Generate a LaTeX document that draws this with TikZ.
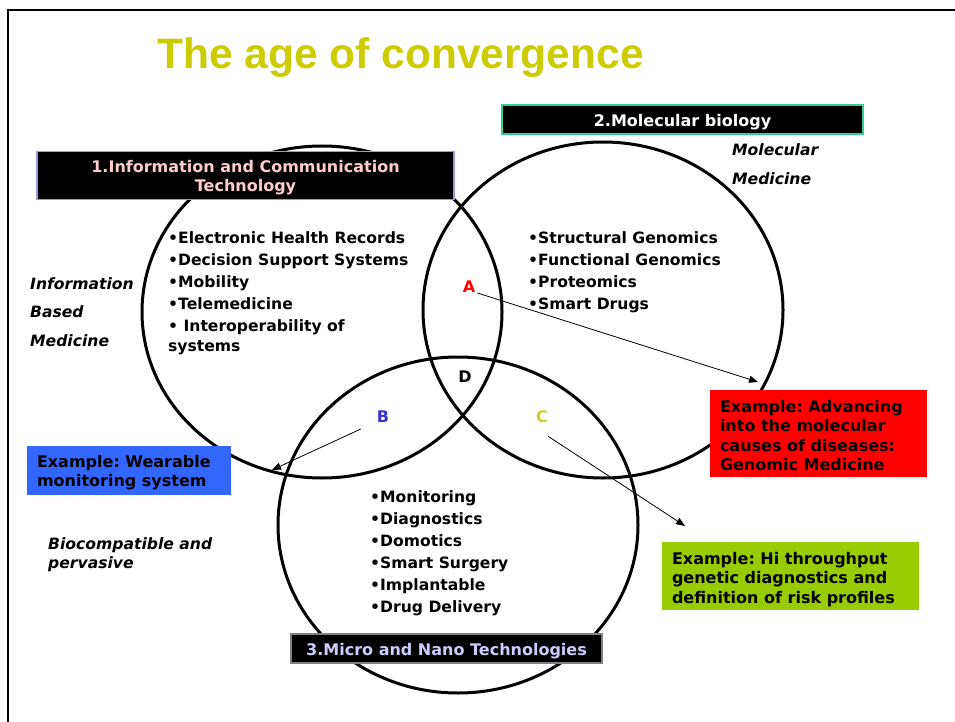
\documentclass[tikz,border=0pt]{standalone}
\usepackage{fontspec}
\setmainfont{DejaVu Sans}
\newfontfamily\titlefont{Liberation Sans}
\usetikzlibrary{arrows.meta}
\frenchspacing
\definecolor{titlecol}{RGB}{204,204,0}
\definecolor{pinktxt}{RGB}{255,204,204}
\definecolor{lavtxt}{RGB}{204,204,255}
\definecolor{box1border}{RGB}{153,153,221}
\definecolor{box2border}{RGB}{51,204,153}
\definecolor{box3border}{RGB}{128,128,128}
\definecolor{bluebox}{RGB}{51,102,255}
\definecolor{redbox}{RGB}{255,0,0}
\definecolor{greenbox}{RGB}{153,204,0}
\definecolor{letterB}{RGB}{51,51,204}
\definecolor{letterC}{RGB}{204,204,51}
\tikzset{
  venn/.style={line width=3pt, draw=black},
  item/.style={anchor=base west, inner sep=0pt, font=\fontsize{15.6}{18}\selectfont\bfseries},
  side/.style={anchor=base west, inner sep=0pt, font=\fontsize{15.6}{18}\selectfont\bfseries\itshape},
  header/.style={fill=black, line width=1.2pt, inner sep=0pt},
  headertext/.style={inner sep=0pt, align=center, yshift=-2.5pt,
    font=\fontsize{16}{19}\selectfont\bfseries},
  examplebox/.style={inner sep=0pt},
  exampletext/.style={inner sep=0pt, align=left, anchor=west, yshift=-2pt,
    font=\fontsize{16}{19.5}\selectfont\bfseries, text=black},
  letter/.style={inner sep=0pt, font=\fontsize{16}{18}\selectfont\bfseries},
  pointer/.style={line width=0.8pt, -{Triangle[length=9pt,width=7pt]}}
}
\begin{document}
\begin{tikzpicture}[x=1pt,y=-1pt]
\useasboundingbox (0,0) rectangle (955,722);
% slide frame
\draw[line width=2.5pt] (8,722) -- (8,10) -- (955,10);
% title
\node[anchor=base west, inner sep=0pt, text=titlecol, font=\titlefont\fontsize{42.5}{48}\selectfont\bfseries] (title) at (157,69) {The age of convergence};
% circles
\coordinate (c1) at (322,312);
\coordinate (c2) at (603,310);
\coordinate (c3) at (458,525);
\draw[venn] (c1) ellipse [x radius=180, y radius=166];
\draw[venn] (c2) ellipse [x radius=180, y radius=168];
\draw[venn] (c3) ellipse [x radius=180, y radius=168];
% headers
\node[header, draw=box1border, minimum width=417pt, minimum height=48pt] (h1) at (245.5,175.5) {};
\node[headertext, text=pinktxt] (h1t) at (h1.center) {1.Information and Communication\\Technology};
\node[header, draw=box2border, minimum width=361pt, minimum height=29pt] (h2) at (682.5,119.5) {};
\node[headertext, text=white] (h2t) at (h2.center) {2.Molecular biology};
\node[header, draw=box3border, minimum width=311pt, minimum height=29pt] (h3) at (446.5,648.5) {};
\node[headertext, text=lavtxt] (h3t) at (h3.center) {3.Micro and Nano Technologies};
% side labels
\node[side] (s1) at (30,289) {Information};
\node[side] (s2) at (30,317) {Based};
\node[side] (s3) at (30,346) {Medicine};
\node[side] (s4) at (732,156) {Molecular};
\node[side] (s5) at (732,185) {Medicine};
\node[side] (s6) at (48,549) {Biocompatible and};
\node[side] (s7) at (48,568) {pervasive};
% ICT list
\node[item] (i1) at (168,243) {•Electronic Health Records};
\node[item] (i2) at (168,265) {•Decision Support Systems};
\node[item] (i3) at (168,287) {•Mobility};
\node[item] (i4) at (168,309) {•Telemedicine};
\node[item] (i5) at (168,331) {• Interoperability of};
\node[item] (i6) at (168,351) {systems};
% Molecular list
\node[item] (m1) at (528,243) {•Structural Genomics};
\node[item] (m2) at (528,265) {•Functional Genomics};
\node[item] (m3) at (528,287) {•Proteomics};
\node[item] (m4) at (528,309) {•Smart Drugs};
% Micro list
\node[item] (n1) at (370,502) {•Monitoring};
\node[item] (n2) at (370,524) {•Diagnostics};
\node[item] (n3) at (370,546) {•Domotics};
\node[item] (n4) at (370,568) {•Smart Surgery};
\node[item] (n5) at (370,590) {•Implantable};
\node[item] (n6) at (370,612) {•Drug Delivery};
% letters
\node[letter, text=redbox] (A) at (469,287) {A};
\node[letter, text=black] (D) at (465,377) {D};
\node[letter, text=letterB] (B) at (383,417) {B};
\node[letter, text=letterC] (C) at (542,417) {C};
% example boxes
\node[examplebox, fill=bluebox, minimum width=204pt, minimum height=49pt] (eb) at (129,470.5) {};
\node[exampletext] (ebt) at ([xshift=10pt]eb.west) {Example: Wearable\\monitoring system};
\node[examplebox, fill=redbox, minimum width=217pt, minimum height=87pt] (er) at (818.5,433.5) {};
\node[exampletext] (ert) at ([xshift=10pt]er.west) {Example: Advancing\\into the molecular\\causes of diseases:\\Genomic Medicine};
\node[examplebox, fill=greenbox, minimum width=257pt, minimum height=68pt] (eg) at (790.5,576) {};
\node[exampletext] (egt) at ([xshift=10pt, yshift=-1.5pt]eg.west) {Example: Hi throughput\\genetic diagnostics and\\definition of risk profiles};
% pointers
\coordinate (ta) at (758,382);
\coordinate (tb) at (272,470);
\coordinate (tc) at (685,526);
\draw[pointer] (A.east) ++(2,6) -- (ta);
\draw[pointer] (B.south west) ++(-16,6) -- (tb);
\draw[pointer] (C.south east) ++(0,13) -- (tc);
\end{tikzpicture}
\end{document}
